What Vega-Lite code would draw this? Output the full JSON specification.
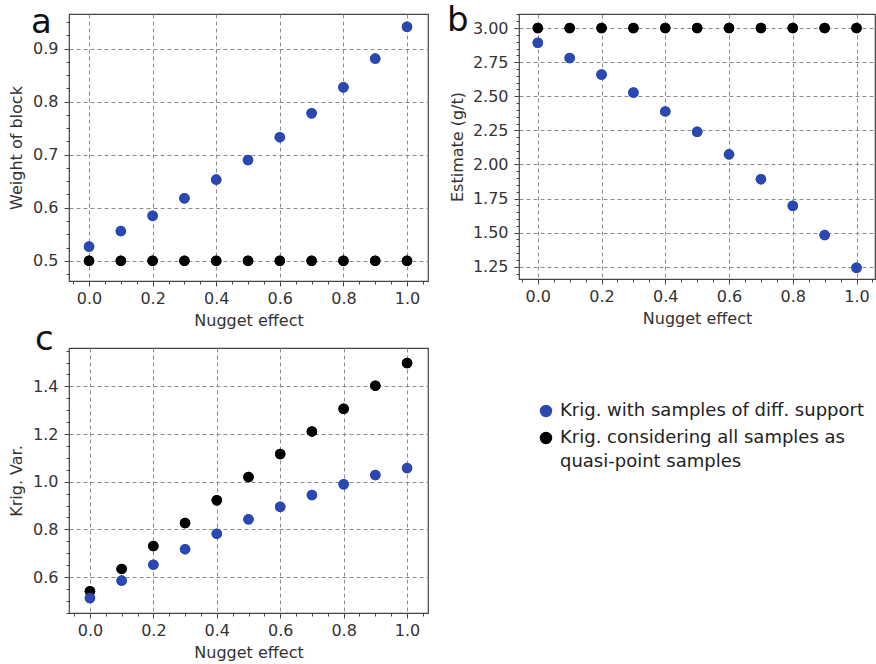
{
  "$schema": "https://vega.github.io/schema/vega-lite/v6.json",
  "background": "white",
  "padding": {"left": 7, "top": 2, "right": 0, "bottom": 0},
  "spacing": {"row": -7, "column": 17},
  "columns": 2,
  "data": {"values": [
    {"panel":"a","nugget":0.0,"quasi":0.5,"diff":0.527},
    {"panel":"a","nugget":0.1,"quasi":0.5,"diff":0.556},
    {"panel":"a","nugget":0.2,"quasi":0.5,"diff":0.585},
    {"panel":"a","nugget":0.3,"quasi":0.5,"diff":0.618},
    {"panel":"a","nugget":0.4,"quasi":0.5,"diff":0.653},
    {"panel":"a","nugget":0.5,"quasi":0.5,"diff":0.690},
    {"panel":"a","nugget":0.6,"quasi":0.5,"diff":0.733},
    {"panel":"a","nugget":0.7,"quasi":0.5,"diff":0.778},
    {"panel":"a","nugget":0.8,"quasi":0.5,"diff":0.827},
    {"panel":"a","nugget":0.9,"quasi":0.5,"diff":0.881},
    {"panel":"a","nugget":1.0,"quasi":0.5,"diff":0.941},
    {"panel":"b","nugget":0.0,"quasi":3.0,"diff":2.892},
    {"panel":"b","nugget":0.1,"quasi":3.0,"diff":2.780},
    {"panel":"b","nugget":0.2,"quasi":3.0,"diff":2.660},
    {"panel":"b","nugget":0.3,"quasi":3.0,"diff":2.528},
    {"panel":"b","nugget":0.4,"quasi":3.0,"diff":2.389},
    {"panel":"b","nugget":0.5,"quasi":3.0,"diff":2.240},
    {"panel":"b","nugget":0.6,"quasi":3.0,"diff":2.074},
    {"panel":"b","nugget":0.7,"quasi":3.0,"diff":1.892},
    {"panel":"b","nugget":0.8,"quasi":3.0,"diff":1.697},
    {"panel":"b","nugget":0.9,"quasi":3.0,"diff":1.482},
    {"panel":"b","nugget":1.0,"quasi":3.0,"diff":1.243},
    {"panel":"c","nugget":0.0,"quasi":0.540,"diff":0.512},
    {"panel":"c","nugget":0.1,"quasi":0.634,"diff":0.585},
    {"panel":"c","nugget":0.2,"quasi":0.730,"diff":0.652},
    {"panel":"c","nugget":0.3,"quasi":0.827,"diff":0.717},
    {"panel":"c","nugget":0.4,"quasi":0.922,"diff":0.782},
    {"panel":"c","nugget":0.5,"quasi":1.020,"diff":0.842},
    {"panel":"c","nugget":0.6,"quasi":1.116,"diff":0.895},
    {"panel":"c","nugget":0.7,"quasi":1.211,"diff":0.944},
    {"panel":"c","nugget":0.8,"quasi":1.306,"diff":0.989},
    {"panel":"c","nugget":0.9,"quasi":1.403,"diff":1.028},
    {"panel":"c","nugget":1.0,"quasi":1.498,"diff":1.057}
  ]},
  "concat": [
    {
      "width": 359, "height": 267,
      "title": {"text": "a", "anchor": "start", "frame": "group", "offset": 0, "baseline": "alphabetic", "dx": -38, "dy": 53, "fontSize": 34, "fontWeight": "normal", "color": "#111"},
      "transform": [{"filter": "datum.panel === 'a'"}, {"fold": ["quasi", "diff"], "as": ["method", "value"]}],
      "encoding": {
        "color": {"field": "method", "type": "nominal", "scale": {"domain": ["diff", "quasi"], "range": ["#2a48b0", "#000000"]},
          "legend": {"orient": "none", "legendX": 468, "legendY": 388, "title": null, "symbolType": "circle", "symbolSize": 154, "symbolStrokeWidth": 0, "labelFontSize": 18, "labelColor": "#222", "labelFont": "DejaVu Sans", "labelLimit": 400, "rowPadding": 9, "labelOffset": 5,
            "labelExpr": "datum.value === 'diff' ? 'Krig. with samples of diff. support' : ['Krig. considering all samples as', '\u00a0\u00a0quasi-point samples']",
            "encode": {"labels": {"enter": {"lineHeight": {"value": 24}}, "update": {"lineHeight": {"value": 24}}}}}}
      },
      "layer": [
        {"mark": {"type": "circle", "size": 110, "opacity": 1},
          "encoding": {
            "x": {"field": "nugget", "type": "quantitative", "scale": {"domain": [-0.063, 1.066], "nice": false, "zero": false},
              "axis": {"orient": "bottom", "values": [-0.05,0,0.05,0.1,0.15,0.2,0.25,0.3,0.35,0.4,0.45,0.5,0.55,0.6,0.65,0.7,0.75,0.8,0.85,0.9,0.95,1,1.05], "labels": false, "grid": false, "tickSize": 3, "title": null}},
            "y": {"field": "value", "type": "quantitative", "scale": {"domain": [0.462, 0.965], "nice": false, "zero": false},
              "axis": {"orient": "left", "values": [0.475,0.5,0.525,0.55,0.575,0.6,0.625,0.65,0.675,0.7,0.725,0.75,0.775,0.8,0.825,0.85,0.875,0.9,0.925,0.95], "labels": false, "grid": false, "tickSize": 3, "title": null}}
          }},
        {"mark": {"type": "circle", "size": 110, "opacity": 1},
          "encoding": {
            "x": {"field": "nugget", "type": "quantitative", "scale": {"domain": [-0.063, 1.066], "nice": false, "zero": false},
              "axis": {"orient": "bottom", "values": [0,0.2,0.4,0.6,0.8,1.0], "format": ".1f", "grid": true, "titlePadding": 6, "title": "Nugget effect"}},
            "y": {"field": "value", "type": "quantitative", "scale": {"domain": [0.462, 0.965], "nice": false, "zero": false},
              "axis": {"orient": "left", "values": [0.5,0.6,0.7,0.8,0.9], "format": ".1f", "grid": true, "labelPadding": 6, "titlePadding": 8, "title": "Weight of block"}}
          }}
      ],
      "resolve": {"axis": {"x": "independent", "y": "independent"}}
    },
    {
      "width": 356, "height": 265,
      "title": {"text": "b", "anchor": "start", "frame": "group", "offset": 0, "baseline": "alphabetic", "dx": -72, "dy": 51, "fontSize": 34, "fontWeight": "normal", "color": "#111"},
      "transform": [{"filter": "datum.panel === 'b'"}, {"fold": ["quasi", "diff"], "as": ["method", "value"]}],
      "encoding": {
        "color": {"field": "method", "type": "nominal", "scale": {"domain": ["diff", "quasi"], "range": ["#2a48b0", "#000000"]},
          "legend": {"orient": "none", "legendX": 468, "legendY": 388, "title": null, "symbolType": "circle", "symbolSize": 154, "symbolStrokeWidth": 0, "labelFontSize": 18, "labelColor": "#222", "labelFont": "DejaVu Sans", "labelLimit": 400, "rowPadding": 9, "labelOffset": 5,
            "labelExpr": "datum.value === 'diff' ? 'Krig. with samples of diff. support' : ['Krig. considering all samples as', '\u00a0\u00a0quasi-point samples']",
            "encode": {"labels": {"enter": {"lineHeight": {"value": 24}}, "update": {"lineHeight": {"value": 24}}}}}}
      },
      "layer": [
        {"mark": {"type": "circle", "size": 110, "opacity": 1},
          "encoding": {
            "x": {"field": "nugget", "type": "quantitative", "scale": {"domain": [-0.059, 1.058], "nice": false, "zero": false},
              "axis": {"orient": "bottom", "values": [-0.05,0,0.05,0.1,0.15,0.2,0.25,0.3,0.35,0.4,0.45,0.5,0.55,0.6,0.65,0.7,0.75,0.8,0.85,0.9,0.95,1,1.05], "labels": false, "grid": false, "tickSize": 3, "title": null}},
            "y": {"field": "value", "type": "quantitative", "scale": {"domain": [1.16, 3.103], "nice": false, "zero": false},
              "axis": {"orient": "left", "values": [1.2,1.25,1.3,1.35,1.4,1.45,1.5,1.55,1.6,1.65,1.7,1.75,1.8,1.85,1.9,1.95,2.0,2.05,2.1,2.15,2.2,2.25,2.3,2.35,2.4,2.45,2.5,2.55,2.6,2.65,2.7,2.75,2.8,2.85,2.9,2.95,3.0,3.05,3.1], "labels": false, "grid": false, "tickSize": 3, "title": null}}
          }},
        {"mark": {"type": "circle", "size": 110, "opacity": 1},
          "encoding": {
            "x": {"field": "nugget", "type": "quantitative", "scale": {"domain": [-0.059, 1.058], "nice": false, "zero": false},
              "axis": {"orient": "bottom", "values": [0,0.2,0.4,0.6,0.8,1.0], "format": ".1f", "grid": true, "titlePadding": 6, "title": "Nugget effect"}},
            "y": {"field": "value", "type": "quantitative", "scale": {"domain": [1.16, 3.103], "nice": false, "zero": false},
              "axis": {"orient": "left", "values": [1.25,1.5,1.75,2.0,2.25,2.5,2.75,3.0], "format": ".2f", "grid": true, "labelPadding": 6, "titlePadding": 7, "title": "Estimate (g/t)"}}
          }}
      ],
      "resolve": {"axis": {"x": "independent", "y": "independent"}}
    },
    {
      "width": 359, "height": 265,
      "title": {"text": "c", "anchor": "start", "frame": "group", "offset": 0, "baseline": "alphabetic", "dx": -34, "dy": 36, "fontSize": 34, "fontWeight": "normal", "color": "#111"},
      "transform": [{"filter": "datum.panel === 'c'"}, {"fold": ["quasi", "diff"], "as": ["method", "value"]}],
      "encoding": {
        "color": {"field": "method", "type": "nominal", "scale": {"domain": ["diff", "quasi"], "range": ["#2a48b0", "#000000"]},
          "legend": {"orient": "none", "legendX": 468, "legendY": 388, "title": null, "symbolType": "circle", "symbolSize": 154, "symbolStrokeWidth": 0, "labelFontSize": 18, "labelColor": "#222", "labelFont": "DejaVu Sans", "labelLimit": 400, "rowPadding": 9, "labelOffset": 5,
            "labelExpr": "datum.value === 'diff' ? 'Krig. with samples of diff. support' : ['Krig. considering all samples as', '\u00a0\u00a0quasi-point samples']",
            "encode": {"labels": {"enter": {"lineHeight": {"value": 24}}, "update": {"lineHeight": {"value": 24}}}}}}
      },
      "layer": [
        {"mark": {"type": "circle", "size": 110, "opacity": 1},
          "encoding": {
            "x": {"field": "nugget", "type": "quantitative", "scale": {"domain": [-0.066, 1.066], "nice": false, "zero": false},
              "axis": {"orient": "bottom", "values": [-0.05,0,0.05,0.1,0.15,0.2,0.25,0.3,0.35,0.4,0.45,0.5,0.55,0.6,0.65,0.7,0.75,0.8,0.85,0.9,0.95,1,1.05], "labels": false, "grid": false, "tickSize": 3, "title": null}},
            "y": {"field": "value", "type": "quantitative", "scale": {"domain": [0.449, 1.561], "nice": false, "zero": false},
              "axis": {"orient": "left", "values": [0.45,0.5,0.55,0.6,0.65,0.7,0.75,0.8,0.85,0.9,0.95,1.0,1.05,1.1,1.15,1.2,1.25,1.3,1.35,1.4,1.45,1.5,1.55], "labels": false, "grid": false, "tickSize": 3, "title": null}}
          }},
        {"mark": {"type": "circle", "size": 110, "opacity": 1},
          "encoding": {
            "x": {"field": "nugget", "type": "quantitative", "scale": {"domain": [-0.066, 1.066], "nice": false, "zero": false},
              "axis": {"orient": "bottom", "values": [0,0.2,0.4,0.6,0.8,1.0], "format": ".1f", "grid": true, "titlePadding": 6, "title": "Nugget effect"}},
            "y": {"field": "value", "type": "quantitative", "scale": {"domain": [0.449, 1.561], "nice": false, "zero": false},
              "axis": {"orient": "left", "values": [0.6,0.8,1.0,1.2,1.4], "format": ".1f", "grid": true, "labelPadding": 6, "titlePadding": 8, "title": "Krig. Var."}}
          }}
      ],
      "resolve": {"axis": {"x": "independent", "y": "independent"}}
    }
  ],
  "resolve": {"scale": {"x": "independent", "y": "independent"}},
  "config": {
    "font": "DejaVu Sans",
    "view": {"stroke": "#444", "strokeWidth": 1.2},
    "style": {"guide-label": {"lineHeight": 24}},
    "axis": {
      "labelFont": "DejaVu Sans", "labelFontSize": 16, "labelColor": "#333",
      "titleFont": "DejaVu Sans", "titleFontSize": 16, "titleFontWeight": "normal", "titleColor": "#333",
      "tickColor": "#444", "tickSize": 5, "domain": false,
      "gridColor": "#8c8c8c", "gridDash": [4, 3], "gridOpacity": 1, "gridWidth": 1,
      "labelPadding": 4, "titlePadding": 9, "labelFlush": false, "labelOverlap": false
    }
  }
}
